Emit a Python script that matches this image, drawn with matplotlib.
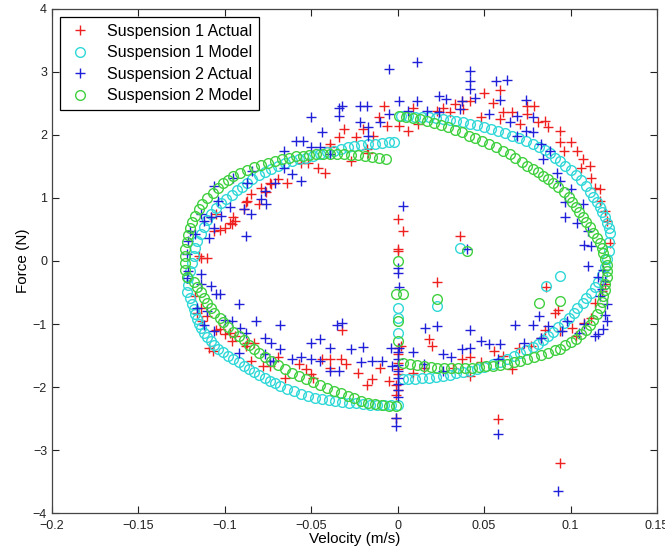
import numpy as np
import matplotlib
matplotlib.use("Agg")
import matplotlib.pyplot as plt

plt.rcParams['font.family'] = ['Liberation Sans', 'DejaVu Sans']

# velocity (m/s), force (N) pairs
s1_actual = np.array([
    (-0.114, 0.05), (-0.110, 0.05), (-0.115, 0.08), (-0.106, 0.48), (-0.103, 0.49), (-0.100, 0.53),
    (-0.108, 0.69), (-0.105, 0.74), (-0.096, 0.58), (-0.094, 0.63), (-0.095, 0.69), (-0.097, 0.61),
    (-0.089, 0.82), (-0.080, 0.90), (-0.087, 0.95), (-0.088, 0.93), (-0.085, 1.07), (-0.076, 1.09),
    (-0.079, 1.16), (-0.074, 1.24), (-0.073, 1.22), (-0.069, 1.30), (-0.064, 1.23), (-0.056, 1.55),
    (-0.052, 1.56), (-0.046, 1.48), (-0.042, 1.40), (-0.039, 1.85), (-0.039, 1.80), (-0.034, 1.96),
    (-0.031, 2.09), (-0.027, 1.58), (-0.024, 1.96), (-0.020, 2.09), (-0.018, 1.77), (-0.017, 1.72),
    (-0.014, 1.98), (-0.011, 2.28), (-0.008, 2.46), (-0.006, 2.14),
    (0.001, 2.14), (0.006, 2.06), (0.009, 2.43), (0.012, 2.17), (0.023, 2.38), (0.026, 2.42),
    (0.030, 2.36), (0.033, 2.49), (0.037, 2.54), (0.042, 2.54), (0.038, 2.41), (0.050, 2.66),
    (0.048, 2.28), (0.055, 2.51), (0.059, 2.71), (0.059, 2.25), (0.061, 2.36), (0.066, 2.36),
    (0.075, 2.46), (0.079, 2.46), (0.075, 2.33), (0.071, 2.17), (0.081, 2.20), (0.085, 2.22),
    (0.087, 2.12), (0.094, 2.06), (0.094, 1.88), (0.100, 1.88), (0.096, 1.75), (0.104, 1.75),
    (0.107, 1.61), (0.106, 1.48), (0.111, 1.51), (0.112, 1.32), (0.114, 1.16), (0.117, 1.14),
    (0.117, 0.95), (0.120, 0.79), (0.121, 0.63), (0.123, 0.29),
    (0.120, -0.37), (0.118, -0.48), (0.114, -0.66), (0.112, -0.90), (0.108, -0.98), (0.101, -1.06),
    (0.103, -1.19), (0.094, -1.11), (0.085, -1.09), (0.083, -1.22), (0.077, -1.35), (0.093, -0.77),
    (0.091, -0.82), (0.086, -0.42), (0.070, -1.38), (0.066, -1.72), (0.061, -1.51), (0.056, -1.43),
    (0.048, -1.61), (0.042, -1.53), (0.037, -1.56), (0.042, -1.83), (0.032, -1.69), (0.020, -1.35),
    (0.018, -1.24), (0.015, -1.69), (0.009, -1.77), (0.002, -1.35),
    (0.036, 0.40), (0.023, -0.34), (0.058, -2.51), (0.094, -3.20),
    (0.000, 0.66), (0.003, 0.48), (0.000, 0.19), (0.000, 0.16),
    (0.000, -1.38), (0.000, -1.48), (0.000, -1.62), (0.000, -1.72), (0.000, -1.80), (-0.001, -1.96),
    (0.000, -2.04), (-0.001, -2.12), (-0.001, -2.49),
    (-0.116, -0.82), (-0.114, -0.74), (-0.110, -0.87), (-0.105, -1.09), (-0.103, -1.08), (-0.100, -1.16),
    (-0.097, -1.14), (-0.096, -1.27), (-0.094, -1.19), (-0.109, -1.38), (-0.107, -1.43), (-0.088, -1.35),
    (-0.087, -1.30), (-0.083, -1.30), (-0.085, -1.59), (-0.078, -1.67), (-0.074, -1.67), (-0.069, -1.53),
    (-0.065, -1.85), (-0.057, -1.64), (-0.053, -1.72), (-0.050, -1.80), (-0.049, -1.85), (-0.044, -1.56),
    (-0.039, -1.69), (-0.039, -1.56), (-0.033, -1.56), (-0.032, -1.09), (-0.030, -1.64), (-0.023, -1.77),
    (-0.018, -1.96), (-0.015, -1.88), (-0.010, -1.69), (-0.005, -1.90), (-0.117, -0.55), (-0.113, -0.95),
])

s1_model = np.array([
    (-0.122, -0.50), (-0.121, -0.38), (-0.121, -0.27), (-0.120, -0.16), (-0.119, -0.04), (-0.118, 0.08),
    (-0.117, 0.20), (-0.116, 0.31), (-0.114, 0.43), (-0.112, 0.54), (-0.110, 0.65), (-0.108, 0.74),
    (-0.105, 0.84), (-0.102, 0.92), (-0.099, 0.99), (-0.096, 1.05), (-0.093, 1.12), (-0.090, 1.18),
    (-0.087, 1.24), (-0.084, 1.30), (-0.080, 1.36), (-0.077, 1.41), (-0.073, 1.46), (-0.069, 1.51),
    (-0.065, 1.55), (-0.061, 1.58), (-0.057, 1.61), (-0.053, 1.64), (-0.049, 1.67), (-0.045, 1.70),
    (-0.041, 1.73), (-0.037, 1.75), (-0.033, 1.78), (-0.029, 1.80), (-0.025, 1.82), (-0.021, 1.84),
    (-0.017, 1.85), (-0.013, 1.86), (-0.009, 1.87), (-0.005, 1.88), (-0.002, 1.89),
    (0.002, 2.30), (0.006, 2.30), (0.010, 2.29), (0.014, 2.29), (0.018, 2.28), (0.022, 2.26),
    (0.026, 2.25), (0.030, 2.23), (0.034, 2.22), (0.038, 2.20), (0.042, 2.18), (0.046, 2.15),
    (0.050, 2.12), (0.054, 2.09), (0.058, 2.06), (0.062, 2.03), (0.066, 1.99), (0.070, 1.95),
    (0.074, 1.91), (0.078, 1.86), (0.082, 1.81), (0.085, 1.76), (0.088, 1.71), (0.091, 1.64),
    (0.094, 1.58), (0.097, 1.51), (0.100, 1.44), (0.103, 1.37), (0.106, 1.28), (0.109, 1.19),
    (0.111, 1.10), (0.113, 1.02), (0.115, 0.94), (0.117, 0.86), (0.118, 0.78), (0.120, 0.69),
    (0.121, 0.61), (0.122, 0.52), (0.123, 0.44),
    (0.122, 0.30), (0.122, 0.16), (0.121, 0.03), (0.120, -0.10), (0.118, -0.22), (0.116, -0.33),
    (0.114, -0.42), (0.112, -0.51), (0.109, -0.59), (0.107, -0.67), (0.104, -0.75), (0.102, -0.82),
    (0.099, -0.90), (0.096, -0.98), (0.093, -1.05), (0.090, -1.12), (0.087, -1.19), (0.084, -1.25),
    (0.081, -1.31), (0.078, -1.36), (0.074, -1.41), (0.071, -1.46), (0.067, -1.51), (0.063, -1.56),
    (0.059, -1.60), (0.055, -1.64), (0.050, -1.68), (0.046, -1.71), (0.042, -1.74), (0.038, -1.76),
    (0.034, -1.78), (0.030, -1.81), (0.026, -1.83), (0.022, -1.84), (0.018, -1.85), (0.014, -1.86),
    (0.010, -1.87), (0.006, -1.88), (0.003, -1.88),
    (0.000, -2.29), (-0.004, -2.29), (-0.008, -2.29), (-0.012, -2.28), (-0.016, -2.28), (-0.020, -2.27),
    (-0.024, -2.26), (-0.028, -2.25), (-0.032, -2.24), (-0.036, -2.22), (-0.040, -2.21), (-0.044, -2.19),
    (-0.048, -2.17), (-0.052, -2.14), (-0.056, -2.11), (-0.060, -2.07), (-0.064, -2.03), (-0.068, -1.98),
    (-0.071, -1.94), (-0.074, -1.90), (-0.077, -1.85), (-0.080, -1.81), (-0.083, -1.76), (-0.086, -1.71),
    (-0.089, -1.66), (-0.092, -1.61), (-0.095, -1.56), (-0.098, -1.51), (-0.101, -1.45), (-0.104, -1.39),
    (-0.106, -1.33), (-0.108, -1.27), (-0.110, -1.20), (-0.112, -1.14), (-0.114, -1.07), (-0.115, -1.00),
    (-0.116, -0.92), (-0.117, -0.84), (-0.118, -0.76), (-0.119, -0.68), (-0.120, -0.59),
    (0.000, -0.74), (0.000, -0.90), (0.000, -1.14), (0.036, 0.21), (0.023, -0.72), (0.086, -0.40),
    (0.094, -0.24),
])

s2_actual = np.array([
    (-0.122, 0.11), (-0.121, 0.32), (-0.120, 0.48), (-0.117, 0.42), (-0.109, 0.37), (-0.106, 0.53),
    (-0.112, 0.63), (-0.114, 0.74), (-0.108, 0.69), (-0.102, 0.71), (-0.097, 0.85), (-0.104, 0.95),
    (-0.106, 1.19), (-0.088, 0.40), (-0.085, 0.74), (-0.089, 0.82), (-0.079, 0.98), (-0.076, 0.90),
    (-0.077, 1.11), (-0.071, 1.24), (-0.087, 1.24), (-0.095, 1.32), (-0.084, 1.43), (-0.066, 1.48),
    (-0.061, 1.38), (-0.056, 1.27), (-0.066, 1.75), (-0.059, 1.90), (-0.055, 1.90), (-0.050, 1.80),
    (-0.045, 1.80), (-0.039, 1.69), (-0.050, 2.28), (-0.044, 2.04), (-0.034, 2.43), (-0.032, 2.46),
    (-0.034, 2.30), (-0.022, 2.46), (-0.018, 2.46), (-0.022, 2.20), (-0.017, 2.12), (-0.010, 2.20),
    (-0.017, 1.98), (-0.005, 3.04), (-0.005, 2.33),
    (0.011, 3.15), (0.001, 2.54), (0.011, 2.54), (0.006, 2.38), (0.017, 2.38), (0.024, 2.62),
    (0.028, 2.57), (0.024, 2.36), (0.037, 2.54), (0.036, 2.41), (0.042, 3.02), (0.042, 2.86),
    (0.042, 2.73), (0.045, 2.59), (0.057, 2.86), (0.063, 2.87), (0.059, 2.56), (0.053, 2.33),
    (0.065, 2.20), (0.074, 2.55), (0.069, 2.30), (0.078, 2.28), (0.069, 1.98), (0.074, 2.06),
    (0.078, 2.04), (0.083, 1.85), (0.088, 1.75), (0.084, 1.61), (0.092, 1.40), (0.094, 1.27),
    (0.100, 1.14), (0.097, 0.93), (0.097, 0.69), (0.104, 0.61), (0.107, 0.90), (0.110, 0.48),
    (0.108, 0.26), (0.112, 0.24), (0.110, -0.08),
    (0.116, -0.26), (0.118, -0.45), (0.121, -0.69), (0.120, -0.85), (0.121, -0.95), (0.119, -1.08),
    (0.116, -1.16), (0.114, -1.19), (0.108, -1.00), (0.105, -1.14), (0.098, -0.95), (0.095, -1.11),
    (0.087, -1.03), (0.083, -1.22), (0.082, -0.87), (0.078, -1.01), (0.073, -1.30), (0.068, -1.01),
    (0.058, -1.56), (0.059, -1.32), (0.053, -1.32), (0.048, -1.27), (0.042, -1.38), (0.042, -1.10),
    (0.037, -1.40), (0.031, -1.53), (0.026, -1.48), (0.026, -1.75), (0.023, -1.03), (0.016, -1.07),
    (0.015, -1.64), (0.009, -1.45), (0.119, -0.15), (0.120, -0.32), (0.117, -0.55),
    (0.003, 0.87), (0.040, 0.19), (0.058, -2.75), (0.093, -3.65),
    (0.000, -0.11), (0.000, -0.19), (0.001, -0.42), (0.000, -1.45), (0.000, -1.55), (0.000, -1.65),
    (0.000, -1.75), (0.000, -1.85), (0.000, -1.95), (0.000, -2.05), (0.000, -2.15), (-0.001, -2.49),
    (-0.001, -2.62), (0.001, -1.38),
    (-0.122, -0.27), (-0.121, -0.16), (-0.114, -0.21), (-0.114, -0.37), (-0.108, -0.40), (-0.105, -0.53),
    (-0.103, -0.53), (-0.092, -0.69), (-0.116, -0.74), (-0.110, -0.79), (-0.100, -0.93), (-0.096, -0.95),
    (-0.082, -0.95), (-0.068, -1.01), (-0.091, -1.06), (-0.088, -1.14), (-0.112, -1.01), (-0.106, -1.11),
    (-0.077, -1.22), (-0.073, -1.30), (-0.092, -1.46), (-0.077, -1.48), (-0.068, -1.40), (-0.074, -1.59),
    (-0.061, -1.56), (-0.056, -1.53), (-0.050, -1.30), (-0.045, -1.24), (-0.039, -1.38), (-0.050, -1.56),
    (-0.045, -1.59), (-0.034, -1.75), (-0.035, -1.01), (-0.032, -0.98), (-0.027, -1.40), (-0.020, -1.37),
    (-0.021, -1.60), (-0.015, -1.59), (-0.009, -1.59), (-0.004, -1.38), (-0.003, -1.67), (-0.039, -1.75),
    (-0.072, -1.59),
])

s2_model = np.array([
    (-0.122, -0.26), (-0.123, -0.14), (-0.123, -0.03), (-0.123, 0.08), (-0.123, 0.19), (-0.122, 0.30),
    (-0.121, 0.41), (-0.120, 0.52), (-0.119, 0.62), (-0.117, 0.72), (-0.115, 0.82), (-0.113, 0.91),
    (-0.110, 1.00), (-0.107, 1.08), (-0.104, 1.16), (-0.101, 1.23), (-0.098, 1.29), (-0.095, 1.35),
    (-0.091, 1.40), (-0.087, 1.45), (-0.083, 1.49), (-0.079, 1.53), (-0.075, 1.56), (-0.071, 1.59),
    (-0.067, 1.62), (-0.063, 1.64), (-0.059, 1.66), (-0.055, 1.67), (-0.051, 1.68), (-0.047, 1.69),
    (-0.043, 1.69), (-0.039, 1.69), (-0.035, 1.69), (-0.031, 1.69), (-0.027, 1.68), (-0.023, 1.68),
    (-0.019, 1.67), (-0.015, 1.65), (-0.011, 1.64), (-0.007, 1.62),
    (0.001, 2.30), (0.005, 2.29), (0.009, 2.27), (0.013, 2.25), (0.017, 2.22), (0.021, 2.19),
    (0.025, 2.16), (0.029, 2.12), (0.033, 2.08), (0.037, 2.04), (0.041, 1.99), (0.045, 1.95),
    (0.049, 1.90), (0.053, 1.85), (0.057, 1.80), (0.061, 1.75), (0.065, 1.70), (0.068, 1.64),
    (0.072, 1.57), (0.075, 1.51), (0.078, 1.46), (0.081, 1.41), (0.084, 1.35), (0.087, 1.30),
    (0.090, 1.24), (0.093, 1.17), (0.096, 1.10), (0.099, 1.02), (0.101, 0.94), (0.103, 0.86),
    (0.105, 0.78), (0.107, 0.70), (0.109, 0.62), (0.111, 0.54), (0.113, 0.45), (0.115, 0.37),
    (0.117, 0.29), (0.118, 0.21), (0.119, 0.12),
    (0.120, 0.03), (0.121, -0.06), (0.121, -0.16), (0.121, -0.26), (0.120, -0.36), (0.120, -0.46),
    (0.119, -0.56), (0.118, -0.65), (0.117, -0.75), (0.115, -0.84), (0.113, -0.93), (0.111, -1.02),
    (0.109, -1.09), (0.106, -1.16), (0.103, -1.23), (0.100, -1.29), (0.097, -1.34), (0.094, -1.39),
    (0.091, -1.42), (0.087, -1.46), (0.083, -1.49), (0.079, -1.52), (0.075, -1.55), (0.071, -1.58),
    (0.067, -1.61), (0.063, -1.63), (0.059, -1.65), (0.055, -1.66), (0.051, -1.67), (0.047, -1.68),
    (0.043, -1.69), (0.039, -1.69), (0.035, -1.69), (0.031, -1.70), (0.027, -1.70), (0.023, -1.69),
    (0.019, -1.68), (0.015, -1.67), (0.011, -1.65), (0.007, -1.64), (0.003, -1.62),
    (-0.001, -2.30), (-0.005, -2.30), (-0.009, -2.28), (-0.013, -2.27), (-0.017, -2.25), (-0.021, -2.22),
    (-0.025, -2.18), (-0.029, -2.14), (-0.033, -2.10), (-0.037, -2.06), (-0.041, -2.01), (-0.045, -1.97),
    (-0.049, -1.92), (-0.053, -1.87), (-0.057, -1.83), (-0.061, -1.77), (-0.065, -1.71), (-0.069, -1.65),
    (-0.073, -1.59), (-0.077, -1.52), (-0.080, -1.46), (-0.083, -1.40), (-0.086, -1.33), (-0.089, -1.26),
    (-0.092, -1.19), (-0.095, -1.12), (-0.098, -1.04), (-0.101, -0.97), (-0.103, -0.90), (-0.106, -0.82),
    (-0.108, -0.74), (-0.110, -0.66), (-0.112, -0.58), (-0.114, -0.50), (-0.116, -0.42), (-0.118, -0.34),
    (0.000, 0.00), (-0.001, -0.53), (0.003, -0.53), (0.000, -0.95), (0.000, -1.27), (0.040, 0.16),
    (0.023, -0.61), (0.082, -0.66), (0.094, -0.63),
])

labels = ['Suspension 1 Actual', 'Suspension 1 Model', 'Suspension 2 Actual', 'Suspension 2 Model']
x_ticks = [-0.2, -0.15, -0.1, -0.05, 0, 0.05, 0.1, 0.15]
x_tick_labels = ['\u22120.2', '\u22120.15', '\u22120.1', '\u22120.05', '0', '0.05', '0.1', '0.15']
y_ticks = [-4, -3, -2, -1, 0, 1, 2, 3, 4]
y_tick_labels = ['\u22124', '\u22123', '\u22122', '\u22121', '0', '1', '2', '3', '4']

fig = plt.figure(figsize=(6.65, 5.5), dpi=100)
ax = fig.add_axes([0.078, 0.067, 0.91, 0.917])

ax.plot(s1_actual[:, 0], s1_actual[:, 1], linestyle='none', marker='+', ms=7, mew=1.0,
        color='#ee2020', label=labels[0])
ax.plot(s1_model[:, 0], s1_model[:, 1], linestyle='none', marker='o', ms=7, mew=1.0,
        mfc='none', mec='#30d8d8', label=labels[1])
ax.plot(s2_actual[:, 0], s2_actual[:, 1], linestyle='none', marker='+', ms=7, mew=1.0,
        color='#2020d8', label=labels[2])
ax.plot(s2_model[:, 0], s2_model[:, 1], linestyle='none', marker='o', ms=7, mew=1.0,
        mfc='none', mec='#40d040', label=labels[3])

ax.set_xlim(-0.2, 0.15)
ax.set_ylim(-4, 4)
ax.set_xticks(x_ticks)
ax.set_xticklabels(x_tick_labels)
ax.set_yticks(y_ticks)
ax.set_yticklabels(y_tick_labels)
ax.tick_params(direction='in', top=True, right=True, length=5, width=0.8,
               labelsize=9, colors='#222222')
ax.tick_params(axis='x', pad=5)
for sp in ax.spines.values():
    sp.set_color('#444444')
    sp.set_linewidth(0.9)

ax.set_xlabel('Velocity (m/s)', fontsize=11, labelpad=0)
ax.set_ylabel('Force (N)', fontsize=11, labelpad=2)

leg = ax.legend(loc='upper left', fontsize=11.5, fancybox=False, edgecolor='black',
                framealpha=1, borderaxespad=0.5, borderpad=0.45, handletextpad=0.9,
                labelspacing=0.4, handlelength=1.6)
leg.get_frame().set_linewidth(0.9)

fig.savefig('out.png', dpi=100)
